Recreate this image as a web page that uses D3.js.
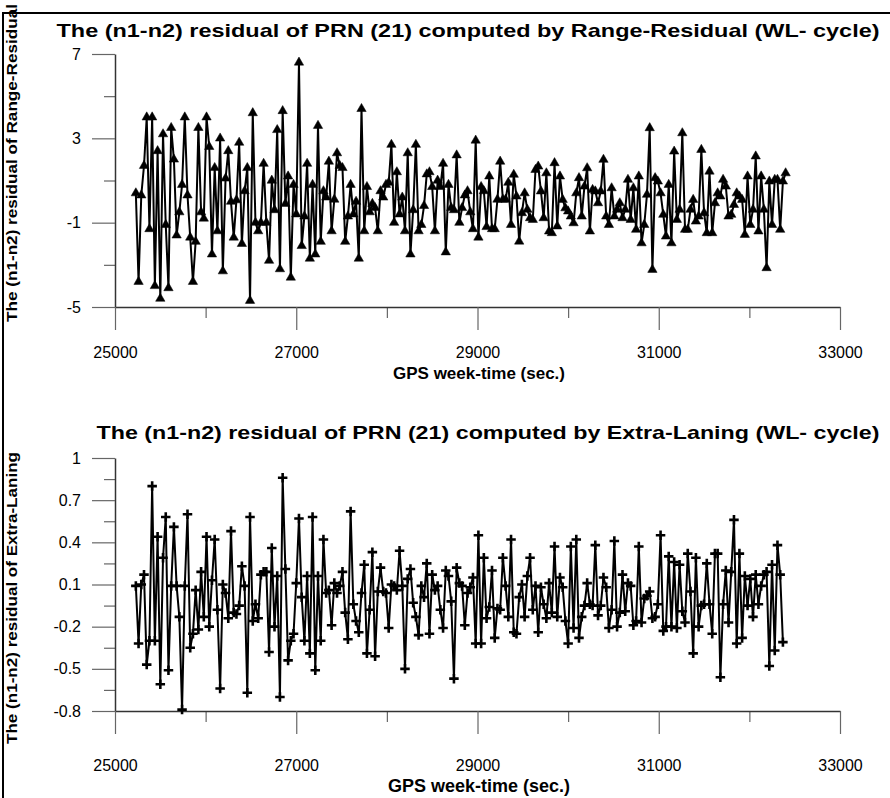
<!DOCTYPE html>
<html>
<head>
<meta charset="utf-8">
<script src="https://cdn.jsdelivr.net/npm/d3@7"></script>
<style>
  body { margin: 0; background: #fff; }
  svg { display: block; font-family: "Liberation Sans", Arial, sans-serif; }
</style>
</head>
<body>
<div id="chart"></div>
<script>
// sampling of the GPS epochs (sec.)
const startTime = 25230;
const step = 30;

const xTicks = [25000, 27000, 29000, 31000, 33000];
const xMinor = [26000, 28000, 30000, 32000];

const rrTicks = [-5, -1, 3, 7];
const rrMinor = [-3, 1, 5];
const elTicks = [-0.8, -0.5, -0.2, 0.1, 0.4, 0.7, 1];
const elMinor = [-0.65, -0.35, -0.05, 0.25, 0.55, 0.85];

// (n1-n2) residual, Range-Residual
const rangeResidual = [
  0.4, -3.8, 0.3, 1.7, 4.0, -1.3, 4.0, -4.0, 2.4, -4.6, 3.2, -1.1, -4.1, 3.5, 2.0, -1.6, -0.5, 0.8, 4.0, 0.3,
  -1.7, -3.8, -1.9, 3.5, -0.5, -0.8, 4.0, 2.6, -2.5, 1.6, -1.4, 3.0, -3.3, 1.1, 2.4, 0.0, -1.7,
  0.07, 2.8, -2.0, 0.5, 1.6, -4.7, 4.2, -1.0, -1.4, -1.0, 1.8, -1.0, -2.8, 1.0, -0.4, 3.4, -3.2, 4.3, -0.1, 1.2,
  -3.6, 0.8, -0.6, 6.6, -2.1, -0.7, 1.8, -2.7, 0.8, -2.5, 3.6, -1.9, 0.5, 0.2, 1.9, -1.4, 0.1, 2.3,
  1.7, 1.6, -1.9, -0.7, 0.8, -0.6, 0.0, -2.7, 4.4, -1.4, 0.7, -0.5, -0.1, -0.3, -1.4, 0.5, 0.2, 0.8, 0.9, 2.7,
  -1.0, 1.4, -0.6, 0.2, -1.4, 2.3, -2.5, -0.4, 2.7, -1.4, -1.1, -0.2, 1.3, 1.4, 0.7, -1.4, 1.0, 0.7, 1.8,
  -2.4, 0.8, -0.3, -0.4, 2.2, -1.0, -0.3, 0.3, 0.5, -0.5, -1.3, 2.9, -1.7, 0.7, 0.5, -1.2, 1.2, -1.3, -1.3, 0.1,
  1.9, 0.1, 0.1, 0.9,
  -1.1, 1.28, 0.25, -1.89, -0.54, 0.4, -0.38, -0.78, -0.86, 1.51, 1.67, 0.49, -0.78, 1.35, -1.41, -1.49, 1.83,
  -1.17, 1.2, 0.09, -0.31, -0.46, -0.7, -1.02, 0.4, 1.12, -0.7, 0.72, 1.59, -1.41, 0.56, 0.49, -0.07, 0.49, 1.99,
  -0.7, -1.1, 0.64, -0.7, -0.38, -0.07, -0.78, -0.38, 1.04, -0.86, 0.64, -1.33, 1.2, -1.97, -1.1, 0.33, 3.49,
  -3.23, 1.12, 0.96, 0.4, -0.62, -1.65, 0.8, -1.97, 2.38, -0.86, -0.38, 3.25, -1.33, -1.33, -0.38, 0.09, -0.94,
  -0.7, 2.46, -0.54, -1.49, 1.43, -1.49, -0.07, 0.4, 0.25, 1.04, 0.72, -0.7, -0.62, -0.15, 0.4, 0.25, 0.09,
  -1.57, 1.2, -1.1, -0.38, 2.15, -1.41, 1.2, -0.38, -3.15, 0.96, -1.1, 1.04, 1.04, -1.33, 0.96, 1.35
];

// (n1-n2) residual, Extra-Laning
const extraLaning = [
  0.09, -0.32, 0.10, 0.17, -0.47, -0.30, 0.80, -0.30, 0.44, -0.61, 0.29, 0.58, -0.51, 0.09, 0.51, 0.09, -0.13,
  -0.79, 0.09, 0.60, -0.35, -0.25, 0.06, -0.22, 0.19, -0.13, 0.44, -0.20, 0.13, 0.42, -0.08, -0.64, 0.10, 0.04,
  -0.14, 0.48, -0.10, -0.11, -0.05, 0.23, 0.09, -0.67, 0.58, -0.16, -0.04, -0.14, 0.17, 0.19, 0.19, -0.38, 0.36,
  -0.20, 0.16, -0.70, 0.86, 0.21, -0.44,
  -0.30, -0.25, 0.11, 0.57, 0.01, -0.30, 0.16, -0.39, 0.58, -0.51, 0.16, -0.30, 0.42, 0.04, 0.06, -0.19, 0.11,
  0.04, 0.09, 0.19, -0.10, -0.29, 0.62, -0.04, -0.16, -0.24, 0.04, 0.24, -0.39, -0.08, 0.33, -0.41, 0.05, 0.22,
  0.05, 0.04, -0.21, 0.10, 0.09, 0.06, 0.34, 0.09, -0.50, 0.14, 0.21, -0.03, -0.13, -0.26, 0.09, 0.01, 0.25,
  -0.25, 0.17, 0.06, 0.09, -0.08, -0.21, 0.20, 0.16, -0.02, -0.57, 0.22, 0.11, 0.09, -0.19, 0.04, 0.08, 0.15,
  -0.32, 0.45, -0.32, 0.29, -0.14, -0.06, 0.20, -0.28, -0.07, -0.08, 0.29, 0.09, -0.13, 0.42,
  -0.24, -0.25, 0.01, 0.10, -0.13, 0.16, 0.29, -0.08, 0.09, -0.24, 0.08, -0.04, -0.14, 0.11, -0.10, 0.37, -0.13,
  0.15, 0.08, -0.16, -0.32, 0.37, -0.21, 0.42, -0.28, -0.13, -0.05, 0.11, -0.04, -0.05, 0.38, -0.12, -0.05, 0.15,
  0.08, -0.21, -0.08, 0.41, -0.20, -0.10, 0.17, -0.09, 0.11, 0.09, -0.19, -0.16, 0.37, -0.17, 0.00, 0.02, 0.05,
  -0.14, -0.13, -0.04, 0.45, -0.23, -0.20, 0.30, -0.20, 0.26, -0.21, 0.24, -0.09, -0.17, 0.32, 0.05, -0.39, 0.29,
  -0.20, -0.05, -0.04, 0.25, -0.04, -0.25, 0.32, 0.32, -0.56, -0.04, 0.20, -0.17, 0.19, 0.56, -0.32, 0.32, -0.28,
  0.16, -0.05, 0.14, -0.13, 0.17, -0.04, 0.09, 0.17, 0.19, -0.48, 0.24, -0.37, 0.38, 0.17, -0.31
];

const W = 890, H = 798;

const svg = d3.select("#chart")
  .append("svg")
  .attr("width", W)
  .attr("height", H)
  .attr("viewBox", `0 0 ${W} ${H}`);

// page frame (left and top edge)
svg.append("path")
  .attr("d", `M3,${H}V13H${W}`)
  .attr("fill", "none")
  .attr("stroke", "#000")
  .attr("stroke-width", 2);

// plus marker drawn with strokes
const plusSymbol = {
  draw(ctx, size) {
    const r = Math.sqrt(size) / 2;
    ctx.moveTo(-r, 0); ctx.lineTo(r, 0);
    ctx.moveTo(0, -r); ctx.lineTo(0, r);
  }
};

// plain hyphen for negatives, as in the original figure
const plainFormat = d => String(d);

function drawPanel(cfg) {
  const x = d3.scaleLinear().domain([25000, 33000]).range([115, 840]);
  const y = d3.scaleLinear().domain(cfg.yDomain).range([cfg.bottom, cfg.top]);

  const data = cfg.values.map((v, i) => ({ t: startTime + i * step, v: v }));

  const g = svg.append("g");

  // y axis, minor then major
  g.append("g")
    .attr("transform", "translate(115,0)")
    .call(d3.axisLeft(y).tickValues(cfg.minor).tickSize(11).tickFormat(""))
    .call(a => a.select(".domain").remove());

  g.append("g")
    .attr("transform", "translate(115,0)")
    .call(d3.axisLeft(y).tickValues(cfg.ticks).tickSizeInner(23).tickSizeOuter(0).tickPadding(11)
      .tickFormat(plainFormat))
    .call(a => a.selectAll("text").style("font-size", "16px").attr("fill", "#000"));

  // x axis
  g.append("g")
    .attr("transform", `translate(0,${cfg.bottom})`)
    .call(d3.axisBottom(x).tickValues(xMinor).tickSize(11).tickFormat(""))
    .call(a => a.select(".domain").remove());

  g.append("g")
    .attr("transform", `translate(0,${cfg.bottom})`)
    .call(d3.axisBottom(x).tickValues(xTicks).tickSizeInner(23).tickSizeOuter(0).tickPadding(cfg.xPad)
      .tickFormat(plainFormat))
    .call(a => a.selectAll("text").style("font-size", "16px").attr("fill", "#000"));

  g.selectAll(".tick line").attr("stroke", "#666").attr("stroke-width", 1.2);
  g.selectAll(".domain").attr("stroke", "#333").attr("stroke-width", 1.5);

  // series line
  const line = d3.line().x(d => x(d.t)).y(d => y(d.v));
  g.append("path")
    .datum(data)
    .attr("fill", "none")
    .attr("stroke", "#000")
    .attr("stroke-width", 2)
    .attr("stroke-linejoin", "round")
    .attr("d", line);

  // markers
  const sym = d3.symbol().type(cfg.marker).size(cfg.markerSize);
  g.selectAll(".mark")
    .data(data)
    .enter()
    .append("path")
    .attr("class", "mark")
    .attr("transform", d => `translate(${x(d.t)},${y(d.v)})`)
    .attr("d", sym)
    .attr("fill", cfg.marker === plusSymbol ? "none" : "#000")
    .attr("stroke", "#000")
    .attr("stroke-width", cfg.marker === plusSymbol ? 2.6 : 0.5);

  // titles
  g.append("text")
    .attr("x", cfg.titleX)
    .attr("y", cfg.titleY)
    .attr("text-anchor", "middle")
    .attr("textLength", cfg.titleLen)
    .attr("lengthAdjust", "spacingAndGlyphs")
    .style("font-size", "19px")
    .style("font-weight", "bold")
    .text(cfg.title);

  g.append("text")
    .attr("x", 479)
    .attr("y", cfg.xTitleY)
    .attr("text-anchor", "middle")
    .style("font-size", cfg.xTitleSize)
    .style("font-weight", "bold")
    .text("GPS week-time (sec.)");

  g.append("text")
    .attr("transform", `translate(17,${cfg.yTitleMid}) rotate(-90)`)
    .attr("text-anchor", "middle")
    .attr("textLength", cfg.yTitleLen)
    .attr("lengthAdjust", "spacingAndGlyphs")
    .style("font-size", "14px")
    .style("font-weight", "bold")
    .text(cfg.yTitle);
}

drawPanel({
  values: rangeResidual,
  yDomain: [-5, 7],
  ticks: rrTicks,
  minor: rrMinor,
  top: 54,
  bottom: 307,
  xPad: 17,
  marker: d3.symbolTriangle,
  markerSize: 38,
  title: "The (n1-n2) residual of PRN (21) computed by Range-Residual (WL- cycle)",
  titleX: 468,
  titleY: 37,
  titleLen: 823,
  xTitleY: 379,
  xTitleSize: "17px",
  yTitle: "The (n1-n2) residual of Range-Residual",
  yTitleMid: 163,
  yTitleLen: 318
});

drawPanel({
  values: extraLaning,
  yDomain: [-0.8, 1],
  ticks: elTicks,
  minor: elMinor,
  top: 458,
  bottom: 711,
  xPad: 26,
  marker: plusSymbol,
  markerSize: 90,
  title: "The (n1-n2) residual of PRN (21) computed by Extra-Laning (WL- cycle)",
  titleX: 488,
  titleY: 439,
  titleLen: 783,
  xTitleY: 792,
  xTitleSize: "18px",
  yTitle: "The (n1-n2) residual of Extra-Laning",
  yTitleMid: 598,
  yTitleLen: 292
});
</script>
</body>
</html>
